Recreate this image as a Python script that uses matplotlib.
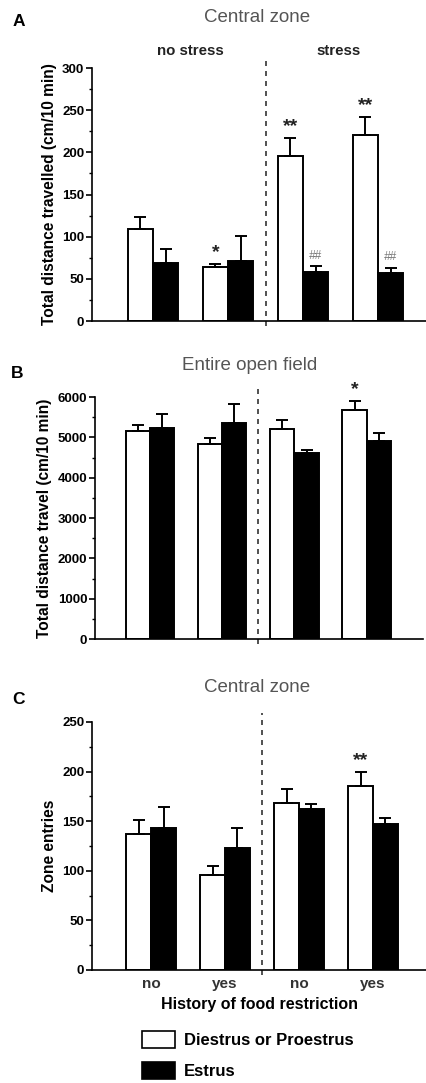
import numpy as np
import matplotlib.pyplot as plt
from matplotlib.patches import Patch
from matplotlib.ticker import MultipleLocator

plt.rcParams['font.family'] = ['Liberation Sans', 'DejaVu Sans']

# ---- data ----
groups = ["no", "yes", "no", "yes"]

a_white = [109, 64, 196, 221]
a_white_err = [14, 4, 21, 21]
a_black = [69, 71, 58, 57]
a_black_err = [16, 30, 7, 6]
a_white_sig = ["", "*", "**", "**"]
a_black_sig = ["", "", "##", "##"]

b_white = [5165, 4827, 5199, 5678]
b_white_err = [130, 150, 220, 215]
b_black = [5224, 5364, 4612, 4909]
b_black_err = [345, 470, 75, 200]
b_white_sig = ["", "", "", "*"]
b_black_sig = ["", "", "", ""]

c_white = [137, 96, 168, 185]
c_white_err = [14, 9, 14, 15]
c_black = [143, 123, 162, 147]
c_black_err = [21, 20, 5, 6]
c_white_sig = ["", "", "", "**"]
c_black_sig = ["", "", "", ""]

W, H = 427, 1083
fig = plt.figure(figsize=(W / 100, H / 100), dpi=100)


def px_axes(left, right, top, bottom):
    return fig.add_axes([left / W, 1 - bottom / H, (right - left) / W, (bottom - top) / H])


def panel(ax, white, werr, black, berr, wsig, bsig, ymax, step, xlim, ylabel):
    x = np.arange(len(white))
    bw = 0.335
    ax.bar(x - bw / 2, white, bw, color="white", edgecolor="black", linewidth=1.4, zorder=2)
    ax.bar(x + bw / 2, black, bw, color="black", edgecolor="black", linewidth=1.4, zorder=2)
    ax.errorbar(x - bw / 2, white, yerr=[np.zeros(len(white)), werr], fmt="none",
                ecolor="black", elinewidth=1.4, capsize=4.5, capthick=1.4, zorder=3)
    ax.errorbar(x + bw / 2, black, yerr=[np.zeros(len(black)), berr], fmt="none",
                ecolor="black", elinewidth=1.4, capsize=4.5, capthick=1.4, zorder=3)
    pad = ymax * 0.012
    for i in range(len(white)):
        if wsig[i]:
            ax.text(x[i] - bw / 2, white[i] + werr[i] + pad, wsig[i], ha="center", va="bottom",
                    fontsize=14, fontweight="bold", color="#222222")
        if bsig[i]:
            ax.text(x[i] + bw / 2, black[i] + berr[i] + pad * 1.5, bsig[i], ha="center", va="bottom",
                    fontsize=8.5, fontstyle="italic", color="#777777")
    ax.set_xlim(*xlim)
    ax.set_ylim(0, ymax)
    ax.yaxis.set_major_locator(MultipleLocator(step))
    ax.yaxis.set_minor_locator(MultipleLocator(step / 2))
    ax.spines["top"].set_visible(False)
    ax.spines["right"].set_visible(False)
    ax.spines["left"].set_linewidth(1.2)
    ax.spines["bottom"].set_linewidth(1.2)
    ax.tick_params(axis="y", which="major", length=4, width=1.2, labelsize=9.5, pad=1.5)
    ax.tick_params(axis="y", which="minor", length=2.5, width=1.0)
    for t in ax.get_yticklabels():
        t.set_fontweight("bold")
    ax.set_ylabel(ylabel, fontsize=11.2, fontweight="bold", labelpad=4)
    # dashed separator between no stress / stress
    ax.plot([1.5, 1.5], [-0.02, 1.035], color="#333333", linestyle=(0, (3, 3)), linewidth=1.2,
            transform=ax.get_xaxis_transform(), clip_on=False, zorder=1)


# ---- panel A ----
axA = px_axes(92, 427, 68, 321)
panel(axA, a_white, a_white_err, a_black, a_black_err, a_white_sig, a_black_sig,
      300, 50, (-0.813, 3.653), "Total distance travelled (cm/10 min)")
axA.set_xticks([])
fig.text(19 / W, 1 - 21 / H, "A", fontsize=12.5, fontweight="bold", ha="center", va="center")
fig.text(257 / W, 1 - 17 / H, "Central zone", fontsize=13.5, color="#555555", ha="center", va="center")
fig.text(190 / W, 1 - 51 / H, "no stress", fontsize=10.8, fontweight="bold", ha="center", va="center",
         color="#222222")
fig.text(339 / W, 1 - 51 / H, "stress", fontsize=10.8, fontweight="bold", ha="center", va="center",
         color="#222222")

# ---- panel B ----
axB = px_axes(95, 423, 397, 639)
panel(axB, b_white, b_white_err, b_black, b_black_err, b_white_sig, b_black_sig,
      6000, 1000, (-0.76, 3.78), "Total distance travel (cm/10 min)")
axB.set_xticks([])
fig.text(17 / W, 1 - 374 / H, "B", fontsize=12.5, fontweight="bold", ha="center", va="center")
fig.text(250 / W, 1 - 365 / H, "Entire open field", fontsize=13.5, color="#555555", ha="center", va="center")

# ---- panel C ----
axC = px_axes(92, 427, 722, 970)
panel(axC, c_white, c_white_err, c_black, c_black_err, c_white_sig, c_black_sig,
      250, 50, (-0.80, 3.73), "Zone entries")
axC.set_xticks(np.arange(len(groups)))
axC.set_xticklabels(groups, fontsize=11, fontweight="bold", color="#333333")
axC.tick_params(axis="x", length=0, pad=5)
axC.set_xlabel("History of food restriction", fontsize=11.5, fontweight="bold", labelpad=4)
fig.text(19 / W, 1 - 700 / H, "C", fontsize=12.5, fontweight="bold", ha="center", va="center")
fig.text(257 / W, 1 - 688 / H, "Central zone", fontsize=13.5, color="#555555", ha="center", va="center")

# ---- legend ----
handles = [Patch(facecolor="white", edgecolor="black", linewidth=1.2, label="Diestrus or Proestrus"),
           Patch(facecolor="black", edgecolor="black", linewidth=1.2, label="Estrus")]
fig.legend(handles=handles, loc="upper left", bbox_to_anchor=(142 / W, 1 - 1031 / H),
           frameon=False, handlelength=2.0, handleheight=1.15, handletextpad=0.5,
           labelspacing=0.85, prop={"size": 12, "weight": "bold"}, borderaxespad=0, borderpad=0)

plt.savefig("out.png", dpi=100)
